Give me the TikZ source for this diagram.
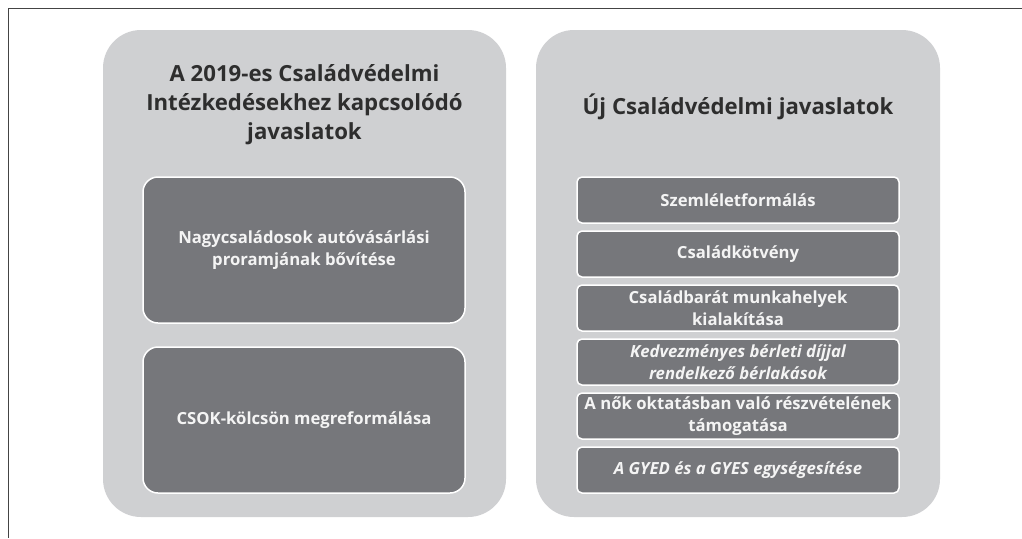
\documentclass[tikz,border=0pt]{standalone}
\usepackage{fontspec}
\setmainfont{Open Sans}
\newlength\measw
\begin{document}
% fit font sizes to the widths measured in the reference
\settowidth\measw{\fontsize{20}{24}\selectfont\bfseries Intézkedésekhez kapcsolódó}%
\pgfmathsetmacro\tfsL{20*316/\measw}%
\settowidth\measw{\fontsize{20}{24}\selectfont\bfseries Új Családvédelmi javaslatok}%
\pgfmathsetmacro\tfsR{20*311/\measw}%
\pgfmathsetmacro\tfs{(\tfsL+\tfsR)/2}%
\settowidth\measw{\fontsize{20}{24}\selectfont\bfseries Szemléletformálás}%
\pgfmathsetmacro\ifa{20*157/\measw}%
\settowidth\measw{\fontsize{20}{24}\selectfont\bfseries Nagycsaládosok autóvásárlási}%
\pgfmathsetmacro\ifb{20*246/\measw}%
\settowidth\measw{\fontsize{20}{24}\selectfont\bfseries A nők oktatásban való részvételének}%
\pgfmathsetmacro\ifc{20*310/\measw}%
\pgfmathsetmacro\ifs{(\ifa+\ifb+\ifc)/3}%
\begin{tikzpicture}[x=1pt,y=-1pt]
\definecolor{bigfill}{HTML}{CFD0D2}
\definecolor{itemfill}{HTML}{76777B}
\definecolor{titlecol}{HTML}{2E2E2E}
\definecolor{framecol}{HTML}{444444}
\definecolor{itemtext}{HTML}{F4F4F4}
\tikzset{
  bigbox/.style={fill=bigfill, draw=none, rounded corners=38pt, inner sep=0pt},
  leftitem/.style={fill=itemfill, draw=white, line width=1.5pt, rounded corners=15pt, inner sep=0pt,
    minimum width=322pt, text=itemtext, font=\fontsize{\ifs}{21.5}\selectfont\bfseries, align=center},
  rightitem/.style={fill=itemfill, draw=white, line width=1.5pt, rounded corners=5pt, inner sep=0pt,
    minimum width=322pt, minimum height=46pt, text=itemtext, font=\fontsize{\ifs}{22}\selectfont\bfseries, align=center},
  titletext/.style={text=titlecol, font=\fontsize{\tfs}{29}\selectfont\bfseries, align=center, inner sep=0pt},
  framestyle/.style={draw=framecol, line width=1.5pt}
}
\useasboundingbox (0,0) rectangle (1022,538);
% frame
\coordinate (fTR) at (1022,8.5);
\coordinate (fTL) at (8.5,8.5);
\coordinate (fBL) at (8.5,538);
\draw[framestyle] (fTR) -- (fTL) -- (fBL);
% big boxes
\node[bigbox, minimum width=403pt, minimum height=487pt] (L) at (304.5,273.5) {};
\node[bigbox, minimum width=404pt, minimum height=487pt] (R) at (738,273.5) {};
% titles
\node[titletext] (Lt) at (304.5,105) {A 2019-es Családvédelmi\\Intézkedésekhez kapcsolódó\\javaslatok};
\node[titletext] (Rt) at (738,107) {Új Családvédelmi javaslatok};
% left items
\node[leftitem, minimum height=146pt] (L1) at (304,250) {Nagycsaládosok autóvásárlási\\proramjának bővítése};
\node[leftitem, minimum height=146pt] (L2) at (304,420) {CSOK-kölcsön megreformálása};
% right items
\node[rightitem] (R1) at (738,200) {Szemléletformálás};
\node[rightitem] (R2) at (738,254) {Családkötvény};
\node[rightitem] (R3) at (738,308) {Családbarát munkahelyek\\kialakítása};
\node[rightitem] (R4) at (738,362) {\itshape Kedvezményes bérleti díjjal\\\itshape rendelkező bérlakások};
\node[rightitem] (R5) at (738,416) {A nők oktatásban való részvételének\\támogatása};
\node[rightitem] (R6) at (738,470) {\itshape A GYED és a GYES egységesítése};
\end{tikzpicture}
\end{document}
